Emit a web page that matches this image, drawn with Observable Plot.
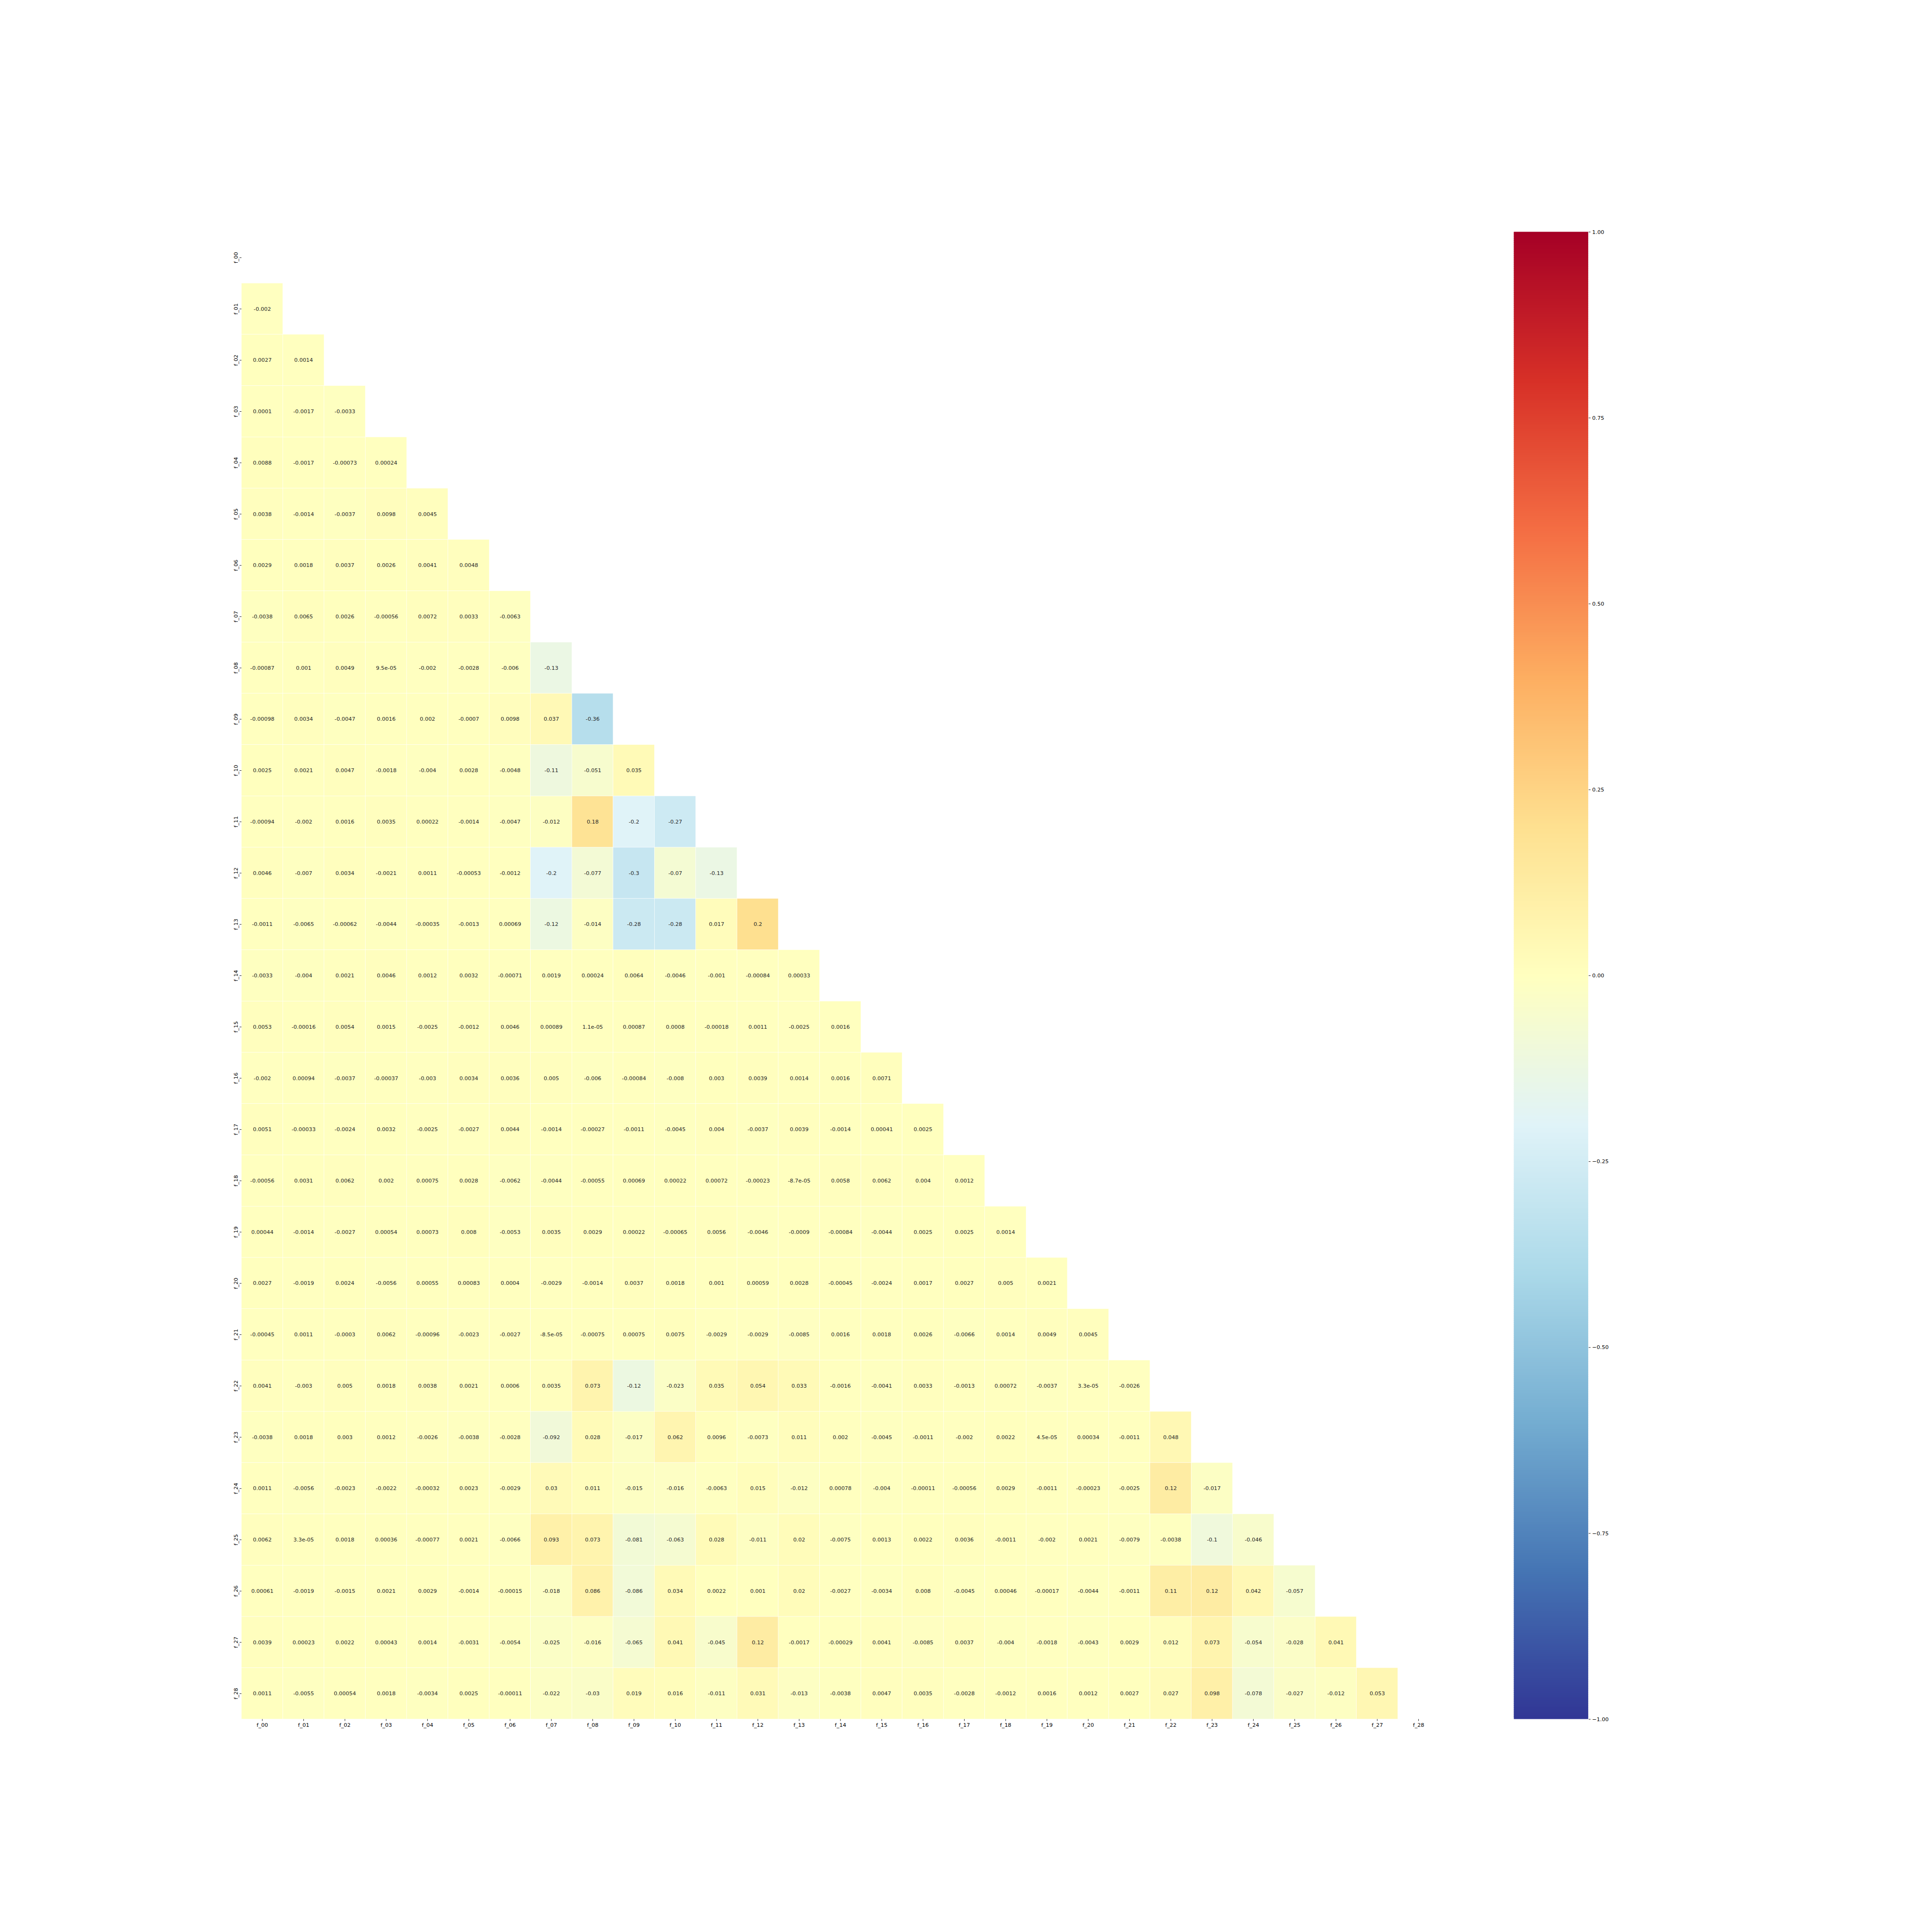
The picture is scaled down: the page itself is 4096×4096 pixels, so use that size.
<!DOCTYPE html>
<html>
<head>
<meta charset="utf-8">
<script src="https://cdn.jsdelivr.net/npm/d3@7"></script>
<script src="https://cdn.jsdelivr.net/npm/@observablehq/plot@0.6"></script>
<style>
  html, body { margin: 0; padding: 0; background: #ffffff; }
  #chart { position: relative; width: 4096px; height: 4096px; background: #ffffff; }
  #chart svg { position: absolute; left: 0; top: 0; }
</style>
</head>
<body>
<div id="chart"></div>
<script>
// ---- Data (lower triangle of the correlation matrix, row by row) ----
const labels = ["f_00","f_01","f_02","f_03","f_04","f_05","f_06","f_07","f_08","f_09",
  "f_10","f_11","f_12","f_13","f_14","f_15","f_16","f_17","f_18","f_19",
  "f_20","f_21","f_22","f_23","f_24","f_25","f_26","f_27","f_28"];

const row_f01 = [-0.002];
const row_f02 = [0.0027, 0.0014];
const row_f03 = [0.0001, -0.0017, -0.0033];
const row_f04 = [0.0088, -0.0017, -0.00073, 0.00024];
const row_f05 = [0.0038, -0.0014, -0.0037, 0.0098, 0.0045];
const row_f06 = [0.0029, 0.0018, 0.0037, 0.0026, 0.0041, 0.0048];
const row_f07 = [-0.0038, 0.0065, 0.0026, -0.00056, 0.0072, 0.0033, -0.0063];
const row_f08 = [-0.00087, 0.001, 0.0049, 9.5e-05, -0.002, -0.0028, -0.006, -0.13];
const row_f09 = [-0.00098, 0.0034, -0.0047, 0.0016, 0.002, -0.0007, 0.0098, 0.037, -0.36];
const row_f10 = [0.0025, 0.0021, 0.0047, -0.0018, -0.004, 0.0028, -0.0048, -0.11, -0.051, 0.035];
const row_f11 = [-0.00094, -0.002, 0.0016, 0.0035, 0.00022, -0.0014, -0.0047, -0.012, 0.18, -0.2, -0.27];
const row_f12 = [0.0046, -0.007, 0.0034, -0.0021, 0.0011, -0.00053, -0.0012, -0.2, -0.077, -0.3, -0.07, -0.13];
const row_f13 = [-0.0011, -0.0065, -0.00062, -0.0044, -0.00035, -0.0013, 0.00069, -0.12, -0.014, -0.28, -0.28, 0.017, 0.2];
const row_f14 = [-0.0033, -0.004, 0.0021, 0.0046, 0.0012, 0.0032, -0.00071, 0.0019, 0.00024, 0.0064, -0.0046, -0.001, -0.00084, 0.00033];
const row_f15 = [0.0053, -0.00016, 0.0054, 0.0015, -0.0025, -0.0012, 0.0046, 0.00089, 1.1e-05, 0.00087, 0.0008, -0.00018, 0.0011, -0.0025, 0.0016];
const row_f16 = [-0.002, 0.00094, -0.0037, -0.00037, -0.003, 0.0034, 0.0036, 0.005, -0.006, -0.00084, -0.008, 0.003, 0.0039, 0.0014, 0.0016, 0.0071];
const row_f17 = [0.0051, -0.00033, -0.0024, 0.0032, -0.0025, -0.0027, 0.0044, -0.0014, -0.00027, -0.0011, -0.0045, 0.004, -0.0037, 0.0039, -0.0014, 0.00041, 0.0025];
const row_f18 = [-0.00056, 0.0031, 0.0062, 0.002, 0.00075, 0.0028, -0.0062, -0.0044, -0.00055, 0.00069, 0.00022, 0.00072, -0.00023, -8.7e-05, 0.0058, 0.0062, 0.004, 0.0012];
const row_f19 = [0.00044, -0.0014, -0.0027, 0.00054, 0.00073, 0.008, -0.0053, 0.0035, 0.0029, 0.00022, -0.00065, 0.0056, -0.0046, -0.0009, -0.00084, -0.0044, 0.0025, 0.0025, 0.0014];
const row_f20 = [0.0027, -0.0019, 0.0024, -0.0056, 0.00055, 0.00083, 0.0004, -0.0029, -0.0014, 0.0037, 0.0018, 0.001, 0.00059, 0.0028, -0.00045, -0.0024, 0.0017, 0.0027, 0.005, 0.0021];
const row_f21 = [-0.00045, 0.0011, -0.0003, 0.0062, -0.00096, -0.0023, -0.0027, -8.5e-05, -0.00075, 0.00075, 0.0075, -0.0029, -0.0029, -0.0085, 0.0016, 0.0018, 0.0026, -0.0066, 0.0014, 0.0049, 0.0045];
const row_f22 = [0.0041, -0.003, 0.005, 0.0018, 0.0038, 0.0021, 0.0006, 0.0035, 0.073, -0.12, -0.023, 0.035, 0.054, 0.033, -0.0016, -0.0041, 0.0033, -0.0013, 0.00072, -0.0037, 3.3e-05, -0.0026];
const row_f23 = [-0.0038, 0.0018, 0.003, 0.0012, -0.0026, -0.0038, -0.0028, -0.092, 0.028, -0.017, 0.062, 0.0096, -0.0073, 0.011, 0.002, -0.0045, -0.0011, -0.002, 0.0022, 4.5e-05, 0.00034, -0.0011, 0.048];
const row_f24 = [0.0011, -0.0056, -0.0023, -0.0022, -0.00032, 0.0023, -0.0029, 0.03, 0.011, -0.015, -0.016, -0.0063, 0.015, -0.012, 0.00078, -0.004, -0.00011, -0.00056, 0.0029, -0.0011, -0.00023, -0.0025, 0.12, -0.017];
const row_f25 = [0.0062, 3.3e-05, 0.0018, 0.00036, -0.00077, 0.0021, -0.0066, 0.093, 0.073, -0.081, -0.063, 0.028, -0.011, 0.02, -0.0075, 0.0013, 0.0022, 0.0036, -0.0011, -0.002, 0.0021, -0.0079, -0.0038, -0.1, -0.046];
const row_f26 = [0.00061, -0.0019, -0.0015, 0.0021, 0.0029, -0.0014, -0.00015, -0.018, 0.086, -0.086, 0.034, 0.0022, 0.001, 0.02, -0.0027, -0.0034, 0.008, -0.0045, 0.00046, -0.00017, -0.0044, -0.0011, 0.11, 0.12, 0.042, -0.057];
const row_f27 = [0.0039, 0.00023, 0.0022, 0.00043, 0.0014, -0.0031, -0.0054, -0.025, -0.016, -0.065, 0.041, -0.045, 0.12, -0.0017, -0.00029, 0.0041, -0.0085, 0.0037, -0.004, -0.0018, -0.0043, 0.0029, 0.012, 0.073, -0.054, -0.028, 0.041];
const row_f28 = [0.0011, -0.0055, 0.00054, 0.0018, -0.0034, 0.0025, -0.00011, -0.022, -0.03, 0.019, 0.016, -0.011, 0.031, -0.013, -0.0038, 0.0047, 0.0035, -0.0028, -0.0012, 0.0016, 0.0012, 0.0027, 0.027, 0.098, -0.078, -0.027, -0.012, 0.053];

// Colour map stops (RdYlBu reversed) and colour-bar ticks
const colorStops = [-1, -0.8, -0.6, -0.4, -0.2, 0, 0.2, 0.4, 0.6, 0.8, 1];
const colorRange = ["#313695","#4575b4","#74add1","#abd9e9","#e0f3f8","#ffffbf","#fee090","#fdae61","#f46d43","#d73027","#a50026"];
const colorbarTicks = [-1, -0.75, -0.5, -0.25, 0, 0.25, 0.5, 0.75, 1];

// ---- Build table ----
const rows = [row_f01,row_f02,row_f03,row_f04,row_f05,row_f06,row_f07,row_f08,row_f09,row_f10,
  row_f11,row_f12,row_f13,row_f14,row_f15,row_f16,row_f17,row_f18,row_f19,row_f20,
  row_f21,row_f22,row_f23,row_f24,row_f25,row_f26,row_f27,row_f28];
const cells = [];
rows.forEach((vals, r) => vals.forEach((v, c) => cells.push({row: labels[r + 1], col: labels[c], value: v})));

// Python-style '.2g' formatting
function fmt2g(v) {
  if (v === 0) return "0";
  const e = Math.floor(Math.log10(Math.abs(v)) + 1e-12);
  if (e < -4 || e >= 2) {
    return v.toExponential(1).replace(/\.0e/, "e").replace(/e([+-])(\d)$/, "e$10$2");
  }
  return String(+v.toPrecision(2));
}

const S = 0.819;
const W = 4096, H = 4096;
const fs = 13.89 * S;
const font = "'DejaVu Sans', sans-serif";
const axL = 625 * S, axT = 600 * S, axW = 3100 * S, axH = 3850 * S;
const cbL = 3918.75 * S, cbW = 192.5 * S;
const tick = 3.5 * 1.389 * S;

const colorScale = {type: "linear", domain: colorStops, range: colorRange, interpolate: "rgb"};
const baseStyle = {fontFamily: font, fontSize: fs + "px", background: "transparent", overflow: "visible", color: "#000"};

const heat = Plot.plot({
  width: W, height: H,
  marginLeft: axL, marginRight: W - axL - axW, marginTop: axT, marginBottom: H - axT - axH,
  x: {domain: labels, padding: 0, round: false, label: null},
  y: {domain: labels, padding: 0, round: false, label: null},
  color: colorScale,
  style: baseStyle,
  marks: [
    Plot.cell(cells, {x: "col", y: "row", fill: "value", stroke: "white", strokeWidth: 0.6, inset: 0}),
    Plot.text(cells, {x: "col", y: "row", text: d => fmt2g(d.value), fill: "#262626", fontSize: fs}),
    Plot.axisX({anchor: "bottom", tickSize: tick, tickPadding: tick, strokeWidth: 0.9, fontSize: fs, label: null}),
    Plot.axisY({anchor: "left", tickSize: tick, tickPadding: tick, strokeWidth: 0.9, tickRotate: -90, fontSize: fs, label: null})
  ]
});

const cbStep = 0.0025;
const cbStripes = d3.range(-1, 1, cbStep);
const cbar = Plot.plot({
  width: W, height: H,
  marginLeft: cbL, marginRight: W - cbL - cbW, marginTop: axT, marginBottom: H - axT - axH,
  x: {domain: [0, 1], axis: null},
  y: {domain: [-1, 1], label: null},
  color: colorScale,
  style: baseStyle,
  marks: [
    Plot.rect(cbStripes, {x1: 0, x2: 1, y1: d => d, y2: d => Math.min(1, d + cbStep * 1.6), fill: d => d + cbStep / 2}),
    Plot.axisY({anchor: "right", ticks: colorbarTicks, tickFormat: d3.format(".2f"), tickSize: tick, tickPadding: tick, strokeWidth: 0.9, fontSize: fs, label: null})
  ]
});

const host = document.getElementById("chart");
host.appendChild(heat);
host.appendChild(cbar);
</script>
</body>
</html>
